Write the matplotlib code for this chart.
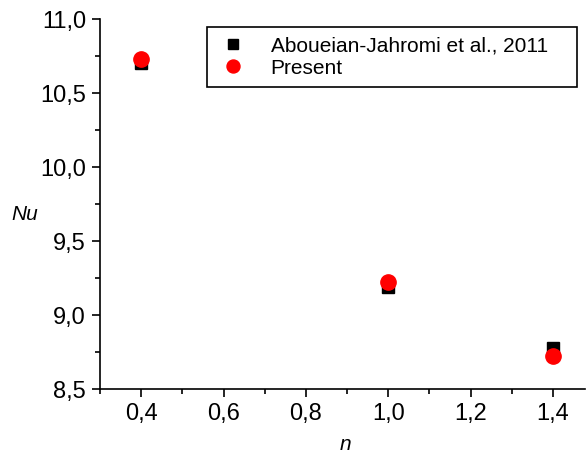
import matplotlib.pyplot as plt
from matplotlib.ticker import MultipleLocator, FuncFormatter

plt.rcParams['font.family'] = ['Liberation Sans', 'DejaVu Sans']

n_vals = [0.4, 1.0, 1.4]
nu_ref = [10.70, 9.19, 8.78]
nu_present = [10.73, 9.22, 8.72]

W, H = 588, 455
fig = plt.figure(figsize=(W / 100, H / 100), dpi=100)
ax = fig.add_axes([100 / W, 66 / H, 485 / W, 370 / H])

ax.plot(n_vals, nu_ref, 's', color='black', markersize=9, label='Aboueian-Jahromi et al., 2011')
ax.plot(n_vals, nu_present, 'o', color='red', markersize=11, label='Present')

ax.set_xlim(0.3, 1.478)
ax.set_ylim(8.5, 11.0)
ax.xaxis.set_major_locator(MultipleLocator(0.2))
ax.xaxis.set_minor_locator(MultipleLocator(0.1))
ax.yaxis.set_major_locator(MultipleLocator(0.5))
ax.yaxis.set_minor_locator(MultipleLocator(0.25))
comma = FuncFormatter(lambda v, p: f"{v:.1f}".replace('.', ','))
ax.xaxis.set_major_formatter(comma)
ax.yaxis.set_major_formatter(comma)

for s in ['top', 'right']:
    ax.spines[s].set_visible(False)
ax.spines['left'].set_linewidth(1.2)
ax.spines['bottom'].set_linewidth(1.2)
ax.tick_params(which='major', direction='out', length=6, width=1.2, labelsize=17, pad=4)
ax.tick_params(which='minor', direction='out', length=3.5, width=1.2)

fig.text(345 / W, 1 - 445 / H, 'n', fontstyle='italic', fontsize=15, ha='center', va='center')
fig.text(25 / W, 1 - 215 / H, 'Nu', fontstyle='italic', fontsize=15, ha='center', va='center')

leg = ax.legend(loc='upper left', bbox_to_anchor=(207 / W, 1 - 89 / H, 370 / W, 62 / H),
                bbox_transform=fig.transFigure, borderaxespad=0, mode='expand', fontsize=15,
                frameon=True, fancybox=False, edgecolor='black', framealpha=1,
                handletextpad=1.0, borderpad=0.45, labelspacing=0.15,
                handlelength=1.6, markerscale=0.85)
leg.get_frame().set_linewidth(1.2)

fig.savefig('out.png', dpi=100)
